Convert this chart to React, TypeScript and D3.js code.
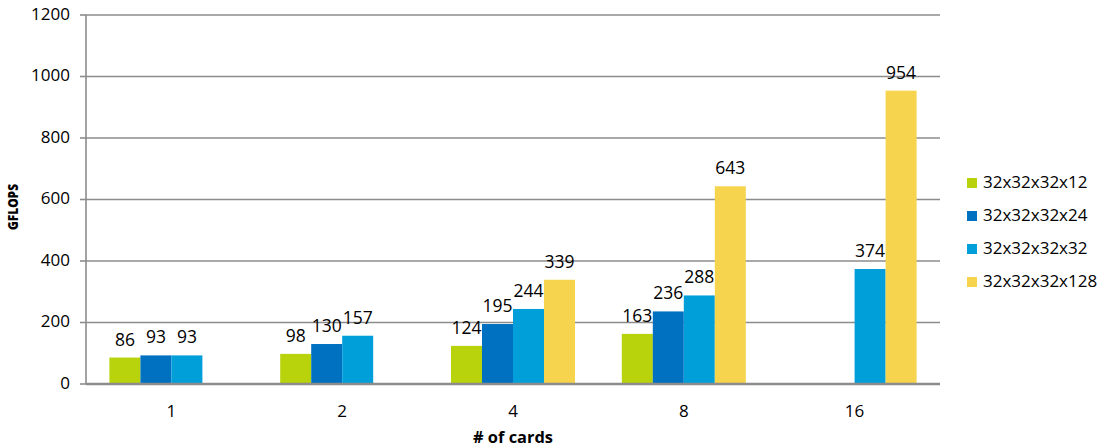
import React from "react";
import * as d3 from "d3";

const categories = ["1", "2", "4", "8", "16"];
const seriesNames = ["32x32x32x12", "32x32x32x24", "32x32x32x32", "32x32x32x128"];
const s12: (number | null)[] = [86, 98, 124, 163, null];
const s24: (number | null)[] = [93, 130, 195, 236, null];
const s32: (number | null)[] = [93, 157, 244, 288, 374];
const s128: (number | null)[] = [null, null, 339, 643, 954];
const seriesValues = [s12, s24, s32, s128];
const colors = ["#b8d20b", "#0070c0", "#009fda", "#f6d44e"];
const yTicks = [0, 200, 400, 600, 800, 1000, 1200];

const W = 1108;
const H = 447;
const m = { left: 86, right: 940, top: 15, bottom: 384 };
const FONT = "'Open Sans', 'Noto Sans', sans-serif";

export default function App() {
  const x = d3.scaleBand<string>().domain(categories).range([m.left, m.right]).paddingInner(0.274).paddingOuter(0.137);
  const x1 = d3.scaleBand<number>().domain([0, 1, 2, 3]).range([0, x.bandwidth()]);
  const y = d3.scaleLinear().domain([0, 1200]).range([m.bottom, m.top]);

  return (
    <svg width={W} height={H} style={{ position: "absolute", left: 0, top: 0, background: "#fff" }} fontFamily={FONT}>
      {yTicks.map((t) => (
        <g key={t}>
          {t > 0 && <line x1={m.left} x2={m.right} y1={y(t)} y2={y(t)} stroke="#8c8c8c" strokeWidth={1.6} />}
          <line x1={m.left - 6} x2={m.left} y1={y(t)} y2={y(t)} stroke="#8c8c8c" strokeWidth={1.6} />
          <text x={70} y={y(t) - 1} dy="0.35em" textAnchor="end" fontSize={17} fill="#000">{t}</text>
        </g>
      ))}
      {seriesValues.map((vals, si) =>
        vals.map((v, ci) => {
          if (v == null) return null;
          const bx = (x(categories[ci]) as number) + (x1(si) as number);
          const bw = x1.bandwidth();
          return (
            <g key={`${si}-${ci}`}>
              <rect x={bx} y={y(v)} width={bw} height={y(0) - y(v)} fill={colors[si]} />
              <text x={bx + bw / 2} y={y(v) - 12} textAnchor="middle" fontSize={17.5} fill="#000">{v}</text>
            </g>
          );
        })
      )}
      <line x1={m.left} x2={m.left} y1={m.top} y2={m.bottom} stroke="#8c8c8c" strokeWidth={1.6} />
      <line x1={m.left} x2={m.right} y1={m.bottom} y2={m.bottom} stroke="#8c8c8c" strokeWidth={2.5} />
      {categories.map((c) => (
        <text key={c} x={(x(c) as number) + x.bandwidth() / 2} y={417} textAnchor="middle" fontSize={17} fill="#000">{c}</text>
      ))}
      <text x={513} y={443} textAnchor="middle" fontSize={16} fontWeight="bold" fill="#000" textLength={80} lengthAdjust="spacingAndGlyphs">
        # of cards
      </text>
      <text transform="translate(18,207) rotate(-90)" textAnchor="middle" fontSize={14} fontWeight={900} fill="#000" textLength={46} lengthAdjust="spacingAndGlyphs">
        GFLOPS
      </text>
      {seriesNames.map((n, i) => (
        <g key={n} transform={`translate(967,${182 + i * 33})`}>
          <rect x={0} y={-4} width={10} height={10} fill={colors[i]} />
          <text x={16} y={0} dy="0.35em" fontSize={17} fill="#000">{n}</text>
        </g>
      ))}
    </svg>
  );
}
